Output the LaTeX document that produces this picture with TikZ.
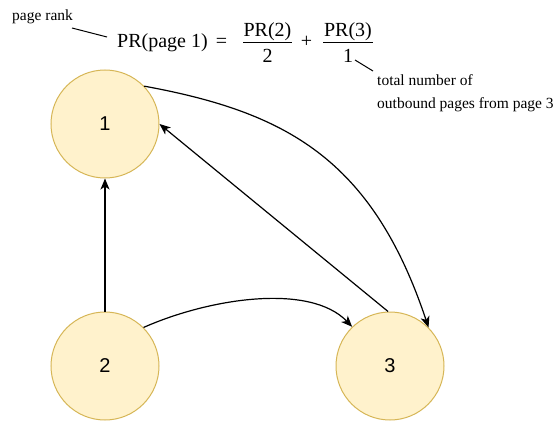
\documentclass[tikz,border=0pt]{standalone}
\usepackage{fontspec}
\setmainfont{Liberation Serif}
\newfontfamily\labelfont{Liberation Sans}
\usetikzlibrary{arrows.meta}
\definecolor{pfill}{HTML}{FFF2CC}
\definecolor{pdraw}{HTML}{D6B656}
\tikzset{
  x=1pt, y=-1pt,
  page/.style={circle, draw=pdraw, fill=pfill, line width=1pt, minimum size=108pt, inner sep=0pt,
    font=\labelfont\fontsize{20}{24}\selectfont},
  link/.style={line width=1.2pt, -{Stealth[length=11pt,width=9pt,inset=3pt]}},
  pointer/.style={line width=1pt},
  formula/.style={anchor=base, inner sep=0pt, font=\fontsize{20}{24}\selectfont},
  note/.style={anchor=base west, inner sep=0pt, font=\fontsize{15.5}{18}\selectfont},
}
\begin{document}
\begin{tikzpicture}
\useasboundingbox (0,0) rectangle (558,423);
% pages
\node[page] (n1) at (105,124) {1};
\node[page] (n2) at (105,366) {2};
\node[page] (n3) at (390,366) {3};
% formula
\node[note] (rank) at (12,20) {page rank};
\node[formula, anchor=base west] (lhs) at (117,47) {PR(page 1)};
\node[formula] (eq) at (221.5,47) {=};
\node[formula] (num2) at (267.5,36) {PR(2)};
\node[formula] (den2) at (267.5,63) {2};
\node[formula] (plus) at (306.5,47) {+};
\node[formula] (num3) at (348,36) {PR(3)};
\node[formula] (den3) at (348,63) {1};
\draw[line width=1pt] (243,42) -- (292,42);
\draw[line width=1pt] (323,42) -- (373,42);
\node[note] (tot1) at (377,85) {total number of};
\node[note] (tot2) at (377,108) {outbound pages from page 3};
% pointers
\coordinate (pr1) at (72,28);
\coordinate (pr2) at (107,37);
\draw[pointer] (pr1) -- (pr2);
\coordinate (to1) at (355,60);
\coordinate (to2) at (373,71);
\draw[pointer] (to1) -- (to2);
% links
\draw[link] (n2.north) -- (n1.south);
\draw[link] (n3.92) -- (n1.east);
\draw[link] (n2.45) .. controls (210,298) and (310,283) .. (n3.134);
\draw[link] (n1.44) .. controls (285,112) and (372,158) .. (n3.45);
\end{tikzpicture}
\end{document}
